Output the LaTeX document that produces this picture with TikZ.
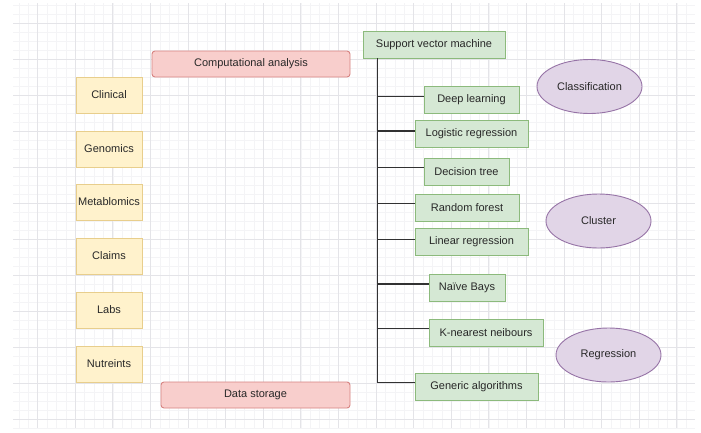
\documentclass[tikz,border=0pt]{standalone}
\usepackage{fontspec}
\setmainfont{Liberation Sans}
\usetikzlibrary{shapes.geometric,positioning}
\definecolor{gridMinor}{RGB}{244,244,246}
\definecolor{gridMajor}{RGB}{228,228,232}
\definecolor{srcFill}{RGB}{255,242,204}
\definecolor{srcLine}{RGB}{232,206,140}
\definecolor{storeFill}{RGB}{248,206,204}
\definecolor{storeLine}{RGB}{214,130,128}
\definecolor{algFill}{RGB}{213,232,212}
\definecolor{algLine}{RGB}{140,186,124}
\definecolor{catFill}{RGB}{225,213,231}
\definecolor{catLine}{RGB}{150,115,166}
\definecolor{inkText}{RGB}{40,40,40}
\definecolor{trunkLine}{RGB}{50,50,50}
\tikzset{
  srcbox/.style={draw=srcLine, fill=srcFill, line width=0.9pt, inner sep=0pt,
    minimum width=66pt, minimum height=36pt, text=inkText},
  storebox/.style={draw=storeLine, fill=storeFill, line width=0.9pt, inner sep=0pt,
    rounded corners=3pt, minimum height=26pt, text=inkText},
  algbox/.style={draw=algLine, fill=algFill, line width=0.9pt, inner sep=0pt,
    minimum height=27pt, text=inkText},
  catnode/.style={ellipse, draw=catLine, fill=catFill, line width=0.9pt, inner sep=0pt,
    minimum width=105pt, minimum height=54pt, text=inkText},
  branch/.style={draw=trunkLine, line width=1.1pt}
}

\begin{document}
\begin{tikzpicture}[x=1pt, y=-1pt, font=\fontsize{11}{12}\selectfont]
  \fill[white] (0,0) rectangle (701,432);
  \useasboundingbox (0,0) rectangle (701,432);

  % background grid
  \foreach \k in {2,...,73}
    \draw[gridMinor, line width=0.6pt] (9.4*\k,3) -- (9.4*\k,428);
  \foreach \k in {0,...,47}
    \draw[gridMinor, line width=0.6pt] (13,5+9*\k) -- (695,5+9*\k);
  \foreach \k in {1,...,18}
    \draw[gridMajor, line width=0.7pt] (37.6*\k,3) -- (37.6*\k,428);
  \foreach \k in {0,...,11}
    \draw[gridMajor, line width=0.7pt] (13,23+36*\k) -- (695,23+36*\k);

  % data sources
  \node[srcbox] (clinical) at (109,95) {Clinical};
  \node[srcbox] (genomics) at (109,149) {Genomics};
  \node[srcbox] (metab) at (109,202) {Metablomics};
  \node[srcbox] (claims) at (109,256) {Claims};
  \node[srcbox] (labs) at (109,310) {Labs};
  \node[srcbox] (nutr) at (109,364) {Nutreints};

  % analysis / storage
  \node[storebox, minimum width=198pt] (comp) at (251,64) {Computational analysis};
  \node[storebox, minimum width=189pt] (store) at (255.5,395) {Data storage};

  % methods
  \node[algbox, minimum width=142pt] (svm) at (434,44.5) {Support vector machine};
  \node[algbox, minimum width=95pt] (deep) at (471.5,99.5) {Deep learning};
  \node[algbox, minimum width=113pt] (logistic) at (471.5,134) {Logistic regression};
  \node[algbox, minimum width=85pt] (dtree) at (466.5,171.5) {Decision tree};
  \node[algbox, minimum width=104pt] (rforest) at (467,207.5) {Random forest};
  \node[algbox, minimum width=113pt] (linear) at (471.5,241.5) {Linear regression};
  \node[algbox, minimum width=76pt] (naive) at (467,288) {Naïve Bays};
  \node[algbox, minimum width=114pt] (knn) at (486,332.5) {K-nearest neibours};
  \node[algbox, minimum width=123pt] (generic) at (476.5,386.5) {Generic algorithms};

  % categories
  \node[catnode] (classif) at (589.5,86.5) {Classification};
  \node[catnode] (cluster) at (598.5,221) {Cluster};
  \node[catnode] (regr) at (608.5,355) {Regression};

  % tree lines
  \coordinate (trunk) at ([xshift=15pt]svm.south west);
  \draw[branch] (trunk) |- ([yshift=4pt]generic.west);
  \foreach \n/\dy in {deep/3,logistic/3,dtree/4,rforest/4,linear/2,naive/4,knn/4}
    \draw[branch] ([yshift=\dy pt]\n.west) -| (trunk);
\end{tikzpicture}
\end{document}
